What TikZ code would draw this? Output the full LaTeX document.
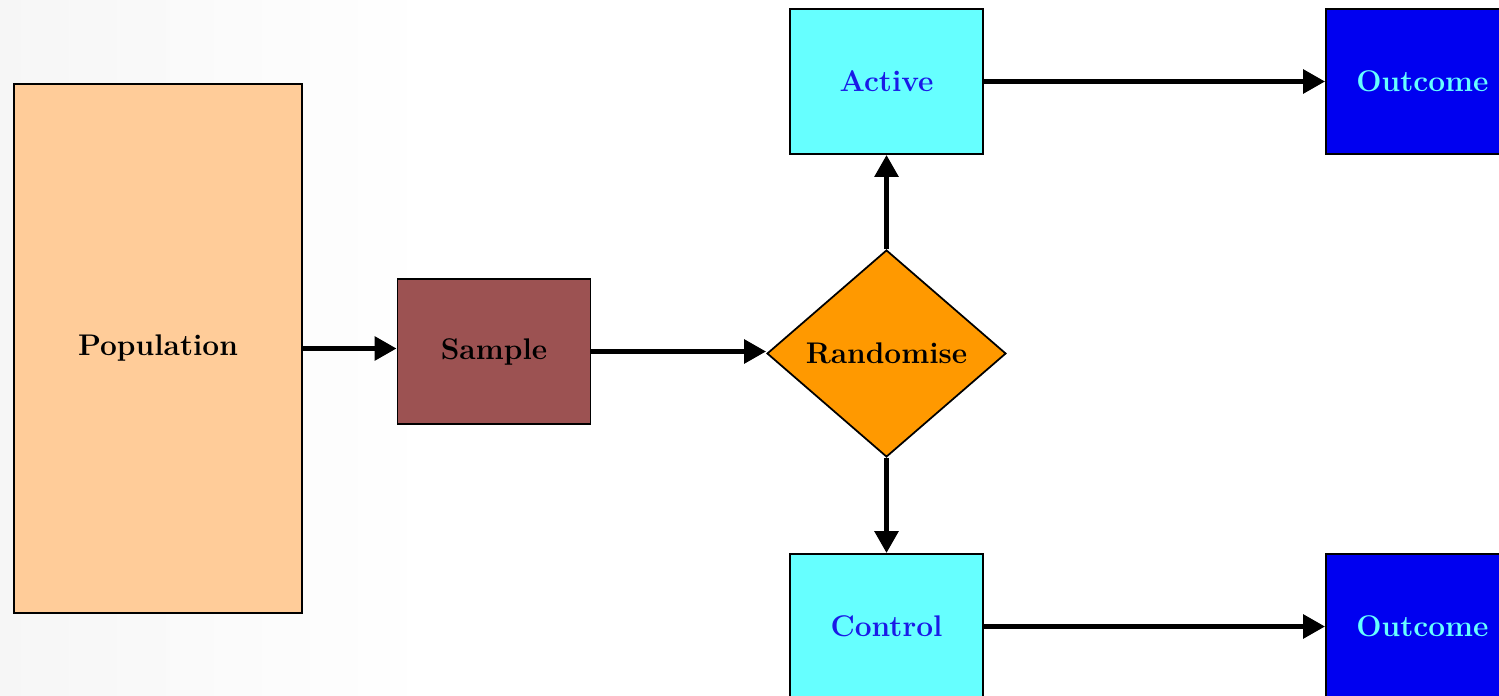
\documentclass[tikz,border=0pt]{standalone}
\usepackage{tikz}
\usetikzlibrary{shapes.geometric,arrows.meta}
\definecolor{peach}{HTML}{FFCC99}
\definecolor{brick}{HTML}{9C5252}
\definecolor{amber}{HTML}{FF9900}
\definecolor{aqua}{HTML}{66FFFF}
\definecolor{deepblue}{HTML}{0000F0}
\definecolor{inkblue}{HTML}{1A1AE6}

\begin{document}
\begin{tikzpicture}[x=0.02cm, y=-0.02cm, every node/.style={draw, line width=1pt, inner sep=2pt, font=\fontsize{17}{20}\selectfont\bfseries}, box/.style={rectangle, minimum width=3.86cm, minimum height=2.9cm}, link/.style={line width=3.4pt, -{Triangle[length=4.4mm, width=4.6mm]}}]
\useasboundingbox (0,0) rectangle (1499,696);
\fill[left color=gray!7, right color=white] (0,0) rectangle (430,696);

\node[rectangle, fill=peach, minimum width=5.76cm, minimum height=10.58cm] (pop) at (158,348.5) {Population};
\node[box, fill=brick] (sample) at (494,351.5) {Sample};
\node[diamond, fill=amber, inner sep=0pt, minimum width=4.78cm, minimum height=4.14cm] (rand) at (886.5,353.5) {Randomise};
\node[box, fill=aqua, text=inkblue] (active) at (886.5,81.5) {Active};
\node[box, fill=aqua, text=inkblue] (control) at (886.5,626.5) {Control};
\node[box, fill=deepblue, text=aqua] (outA) at (1422.5,81.5) {Outcome};
\node[box, fill=deepblue, text=aqua] (outC) at (1422.5,626.5) {Outcome};

\draw[link] (pop.east) -- (pop.east -| sample.west);
\draw[link] (sample.east) -- (sample.east -| rand.west);
\draw[link] (rand.north) -- (active.south);
\draw[link] (rand.south) -- (control.north);
\draw[link] (active) -- (outA);
\draw[link] (control) -- (outC);
\end{tikzpicture}
\end{document}
